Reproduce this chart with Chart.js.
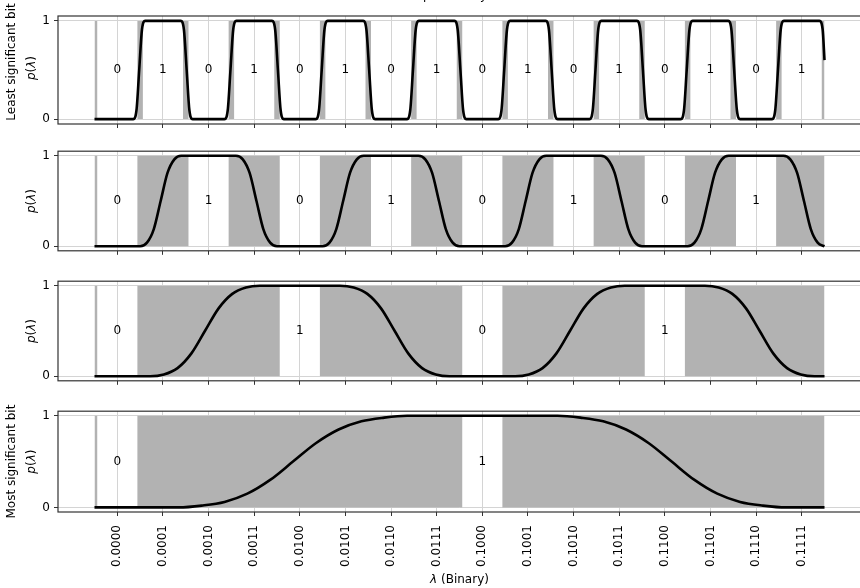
<!DOCTYPE html>
<html>
<head>
<meta charset="utf-8">
<script src="https://cdn.jsdelivr.net/npm/chart.js@4.4.1/dist/chart.umd.min.js"></script>
<style>
  body { margin: 0; background: #fff; }
  #wrap { position: relative; width: 860px; height: 588px; overflow: hidden; }
  canvas { position: absolute; left: 0; }
</style>
</head>
<body>
<div id="wrap">
  <canvas id="c1" width="870" height="160" style="top:-20px"></canvas>
  <canvas id="c2" width="870" height="122" style="top:140px"></canvas>
  <canvas id="c3" width="870" height="122" style="top:270px"></canvas>
  <canvas id="c4" width="870" height="188" style="top:400px"></canvas>
</div>
<script>
// x tick positions and their binary labels
const tickValues = [0, 1, 2, 3, 4, 5, 6, 7, 8, 9, 10, 11, 12, 13, 14, 15];
const binLabels = ['0.0000', '0.0001', '0.0010', '0.0011', '0.0100', '0.0101', '0.0110', '0.0111',
                   '0.1000', '0.1001', '0.1010', '0.1011', '0.1100', '0.1101', '0.1110', '0.1111'];

// bit 0 (least significant)
const lsbCenters = [0, 1, 2, 3, 4, 5, 6, 7, 8, 9, 10, 11, 12, 13, 14, 15];
const lsbBits = [0, 1, 0, 1, 0, 1, 0, 1, 0, 1, 0, 1, 0, 1, 0, 1];
const lsbX = [-0.5,
  0.35, 0.42, 0.48, 0.54, 0.61,  1.39, 1.46, 1.52, 1.58, 1.65,
  2.35, 2.42, 2.48, 2.54, 2.61,  3.39, 3.46, 3.52, 3.58, 3.65,
  4.35, 4.42, 4.48, 4.54, 4.61,  5.39, 5.46, 5.52, 5.58, 5.65,
  6.35, 6.42, 6.48, 6.54, 6.61,  7.39, 7.46, 7.52, 7.58, 7.65,
  8.35, 8.42, 8.48, 8.54, 8.61,  9.39, 9.46, 9.52, 9.58, 9.65,
  10.35, 10.42, 10.48, 10.54, 10.61,  11.39, 11.46, 11.52, 11.58, 11.65,
  12.35, 12.42, 12.48, 12.54, 12.61,  13.39, 13.46, 13.52, 13.58, 13.65,
  14.35, 14.42, 14.48, 14.54, 14.61,  15.39, 15.46, 15.5];
const lsbY = [0,
  0, 0.09, 0.5, 0.91, 1,  1, 0.91, 0.5, 0.09, 0,
  0, 0.09, 0.5, 0.91, 1,  1, 0.91, 0.5, 0.09, 0,
  0, 0.09, 0.5, 0.91, 1,  1, 0.91, 0.5, 0.09, 0,
  0, 0.09, 0.5, 0.91, 1,  1, 0.91, 0.5, 0.09, 0,
  0, 0.09, 0.5, 0.91, 1,  1, 0.91, 0.5, 0.09, 0,
  0, 0.09, 0.5, 0.91, 1,  1, 0.91, 0.5, 0.09, 0,
  0, 0.09, 0.5, 0.91, 1,  1, 0.91, 0.5, 0.09, 0,
  0, 0.09, 0.5, 0.91, 1,  1, 0.91, 0.6];

// bit 1
const b1Centers = [0, 2, 4, 6, 8, 10, 12, 14];
const b1Bits = [0, 1, 0, 1, 0, 1, 0, 1];
const b1X = [-0.5,
  0.5, 0.65, 0.8, 0.95, 1.1, 1.25, 1.4,  2.6, 2.75, 2.9, 3.05, 3.2, 3.35, 3.5,
  4.5, 4.65, 4.8, 4.95, 5.1, 5.25, 5.4,  6.6, 6.75, 6.9, 7.05, 7.2, 7.35, 7.5,
  8.5, 8.65, 8.8, 8.95, 9.1, 9.25, 9.4,  10.6, 10.75, 10.9, 11.05, 11.2, 11.35, 11.5,
  12.5, 12.65, 12.8, 12.95, 13.1, 13.25, 13.4,  14.6, 14.75, 14.9, 15.05, 15.2, 15.35, 15.5];
const b1Y = [0,
  0, 0.04, 0.19, 0.5, 0.81, 0.96, 1,  1, 0.96, 0.81, 0.5, 0.19, 0.04, 0,
  0, 0.04, 0.19, 0.5, 0.81, 0.96, 1,  1, 0.96, 0.81, 0.5, 0.19, 0.04, 0,
  0, 0.04, 0.19, 0.5, 0.81, 0.96, 1,  1, 0.96, 0.81, 0.5, 0.19, 0.04, 0,
  0, 0.04, 0.19, 0.5, 0.81, 0.96, 1,  1, 0.96, 0.81, 0.5, 0.19, 0.04, 0];

// bit 2
const b2Centers = [0, 4, 8, 12];
const b2Bits = [0, 1, 0, 1];
const b2X = [-0.5,
  0.72, 1.02, 1.32, 1.62, 1.92, 2.22, 2.52, 2.82, 3.12,
  4.88, 5.18, 5.48, 5.78, 6.08, 6.38, 6.68, 6.98, 7.28,
  8.72, 9.02, 9.32, 9.62, 9.92, 10.22, 10.52, 10.82, 11.12,
  12.88, 13.18, 13.48, 13.78, 14.08, 14.38, 14.68, 14.98, 15.28,
  15.5];
const b2Y = [0,
  0, 0.02, 0.09, 0.25, 0.5, 0.75, 0.91, 0.98, 1,
  1, 0.98, 0.91, 0.75, 0.5, 0.25, 0.09, 0.02, 0,
  0, 0.02, 0.09, 0.25, 0.5, 0.75, 0.91, 0.98, 1,
  1, 0.98, 0.91, 0.75, 0.5, 0.25, 0.09, 0.02, 0,
  0];

// bit 3 (most significant)
const msbCenters = [0, 8];
const msbBits = [0, 1];
const msbX = [-0.5,
  1.35, 1.85, 2.35, 2.85, 3.35, 3.85, 4.35, 4.85, 5.35, 5.85, 6.35,
  9.65, 10.15, 10.65, 11.15, 11.65, 12.15, 12.65, 13.15, 13.65, 14.15, 14.65,
  15.5];
const msbY = [0,
  0, 0.02, 0.06, 0.15, 0.3, 0.5, 0.7, 0.85, 0.94, 0.98, 1,
  1, 0.98, 0.94, 0.85, 0.7, 0.5, 0.3, 0.15, 0.06, 0.02, 0,
  0];

const FONT = 'DejaVu Sans';
const halfWin = 0.44;

Chart.defaults.font.family = FONT;
Chart.defaults.font.size = 12;
Chart.defaults.color = '#000';

const pLambda = [{ t: 'p', i: 1 }, { t: '(' }, { t: 'λ', i: 1 }, { t: ')' }];

function drawRuns(ctx, runs, cx, cy, rotate) {
  ctx.save();
  ctx.translate(cx, cy);
  if (rotate) ctx.rotate(-Math.PI / 2);
  ctx.textBaseline = 'middle';
  ctx.textAlign = 'left';
  ctx.fillStyle = '#000';
  const fonts = runs.map(r => (r.i ? 'italic ' : '') + '12px "' + FONT + '"');
  let total = 0;
  const widths = runs.map((r, k) => {
    ctx.font = fonts[k];
    const w = ctx.measureText(r.t).width;
    total += w;
    return w;
  });
  let x = -total / 2;
  runs.forEach((r, k) => {
    ctx.font = fonts[k];
    ctx.fillText(r.t, x, 0);
    x += widths[k];
  });
  ctx.restore();
}

// bit labels, frame and texts
const decor = {
  id: 'decor',
  afterDatasetsDraw(chart, args, o) {
    const { ctx, chartArea: a, scales: { x, y } } = chart;
    ctx.save();
    ctx.font = '12px "' + FONT + '"';
    ctx.fillStyle = '#000';
    ctx.textAlign = 'center';
    ctx.textBaseline = 'middle';
    o.centers.forEach((c, i) => {
      ctx.fillText(String(o.bits[i]), x.getPixelForValue(c), y.getPixelForValue(0.5));
    });
    ctx.strokeStyle = '#333';
    ctx.lineWidth = 1.2;
    ctx.strokeRect(a.left, a.top, a.right - a.left, a.bottom - a.top);
    ctx.restore();
  },
  afterDraw(chart, args, o) {
    const { ctx, chartArea: a } = chart;
    const mid = (a.top + a.bottom) / 2;
    o.yTitle.forEach((runs, k) => drawRuns(ctx, runs, o.yTitleX[k], mid + (o.yShift ? o.yShift[k] : 0), true));
    if (o.title) drawRuns(ctx, [{ t: o.title.text }], o.title.x, o.title.y, false);
    if (o.xTitle) drawRuns(ctx, o.xTitle.runs, (a.left + a.right) / 2, o.xTitle.y, false);
  }
};

function makePanel(id, p) {
  // grey everywhere on [-0.5, 15.5] except a window round each labelled position
  const band = [{ x: -0.5, y: 1 }];
  p.centers.forEach(c => {
    band.push({ x: c - halfWin, y: 0 });
    band.push({ x: c + halfWin, y: 1 });
  });
  band.push({ x: 15.5, y: 1 });

  return new Chart(document.getElementById(id), {
    type: 'line',
    data: {
      datasets: [{
        data: p.xs.map((v, i) => ({ x: v, y: p.ys[i] })),
        borderColor: '#000',
        borderWidth: 2.6,
        pointRadius: 0,
        fill: false,
        cubicInterpolationMode: 'monotone',
        order: 0
      }, {
        data: band,
        stepped: 'before',
        fill: 'origin',
        backgroundColor: '#b2b2b2',
        borderWidth: 0,
        pointRadius: 0,
        order: 1
      }]
    },
    options: {
      responsive: false,
      animation: false,
      events: [],
      layout: { padding: { top: p.padTop, right: 9, bottom: p.padBottom || 0, left: 0 } },
      plugins: {
        legend: { display: false },
        tooltip: { enabled: false },
        decor: {
          centers: p.centers, bits: p.bits,
          yTitle: p.yTitle, yTitleX: p.yTitleX, yShift: p.yShift,
          title: p.title, xTitle: p.xTitle
        }
      },
      scales: {
        x: {
          type: 'linear',
          min: -1.3,
          max: 16.3,
          afterBuildTicks: s => { s.ticks = tickValues.map(v => ({ value: v })); },
          afterFit: s => { s.height = p.xHeight; },
          grid: { color: '#d4d4d4', tickColor: '#333', tickLength: 4 },
          border: { display: false },
          ticks: {
            display: p.showX,
            autoSkip: false,
            minRotation: 90,
            maxRotation: 90,
            padding: 9,
            color: '#000',
            callback: v => binLabels[v]
          }
        },
        y: {
          min: -0.05,
          max: 1.05,
          afterBuildTicks: s => { s.ticks = [{ value: 0 }, { value: 1 }]; },
          afterFit: s => { s.width = 58; },
          grid: { color: '#d4d4d4', tickColor: '#333', tickLength: 4 },
          border: { display: false },
          ticks: { padding: 4, color: '#000', callback: v => String(v) }
        }
      }
    },
    plugins: [decor]
  });
}

makePanel('c1', {
  xs: lsbX, ys: lsbY, centers: lsbCenters, bits: lsbBits,
  padTop: 36, padBottom: 8, xHeight: 8, showX: false,
  yTitle: [[{ t: 'Least significant bit' }], pLambda], yTitleX: [12, 32], yShift: [-8, -2],
  title: { text: 'probability', x: 455, y: 16 }
});
makePanel('c2', {
  xs: b1X, ys: b1Y, centers: b1Centers, bits: b1Bits,
  padTop: 6, xHeight: 8, showX: false,
  yTitle: [pLambda], yTitleX: [32]
});
makePanel('c3', {
  xs: b2X, ys: b2Y, centers: b2Centers, bits: b2Bits,
  padTop: 6, xHeight: 8, showX: false,
  yTitle: [pLambda], yTitleX: [32]
});
makePanel('c4', {
  xs: msbX, ys: msbY, centers: msbCenters, bits: msbBits,
  padTop: 7, xHeight: 76, showX: true,
  yTitle: [[{ t: 'Most significant bit' }], pLambda], yTitleX: [12, 32],
  xTitle: { runs: [{ t: 'λ', i: 1 }, { t: ' (Binary)' }], y: 180 }
});
</script>
</body>
</html>
